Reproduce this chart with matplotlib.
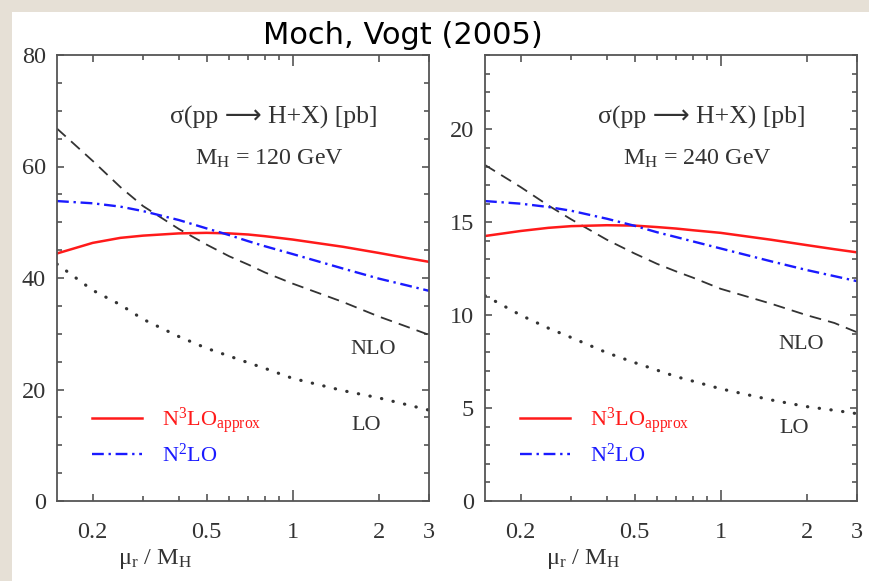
import matplotlib
matplotlib.use("Agg")
import matplotlib.pyplot as plt
from matplotlib.patches import Rectangle
from matplotlib.ticker import FixedLocator, NullFormatter, MultipleLocator

plt.rcParams['font.family'] = ['Liberation Serif', 'DejaVu Sans']
plt.rcParams['mathtext.fontset'] = 'custom'
plt.rcParams['mathtext.rm'] = 'Liberation Serif'
plt.rcParams['mathtext.it'] = 'Liberation Serif:italic'
plt.rcParams['mathtext.bf'] = 'Liberation Serif:bold'

# scale ratio mu_r / M_H
mu = [0.15, 0.2, 0.25, 0.3, 0.4, 0.5, 0.6, 0.7, 0.8, 1.0, 1.5, 2.0, 2.5, 3.0]

# M_H = 120 GeV
lo_120 = [42.5, 37.8, 35.2, 32.6, 29.5, 27.4, 26.0, 24.8, 23.8, 22.0, 19.8, 18.5, 17.3, 16.3]
nlo_120 = [66.8, 61.0, 56.3, 52.9, 48.8, 46.0, 43.9, 42.4, 41.0, 39.0, 35.7, 33.1, 31.3, 29.8]
n2lo_120 = [53.8, 53.4, 52.8, 52.0, 50.4, 48.9, 47.7, 46.6, 45.7, 44.3, 41.7, 39.9, 38.7, 37.7]
n3lo_120 = [44.4, 46.3, 47.2, 47.6, 48.0, 48.1, 48.0, 47.8, 47.5, 46.9, 45.6, 44.5, 43.6, 42.9]

# M_H = 240 GeV
lo_240 = [11.05, 10.0, 9.3, 8.8, 7.98, 7.45, 7.04, 6.69, 6.45, 6.04, 5.44, 5.08, 4.88, 4.70]
nlo_240 = [18.08, 16.89, 15.90, 15.16, 14.06, 13.32, 12.76, 12.35, 12.02, 11.42, 10.62, 10.0, 9.58, 9.08]
n2lo_240 = [16.14, 16.0, 15.82, 15.62, 15.19, 14.81, 14.46, 14.20, 13.97, 13.59, 12.90, 12.43, 12.10, 11.83]
n3lo_240 = [14.26, 14.53, 14.70, 14.79, 14.84, 14.82, 14.74, 14.66, 14.57, 14.43, 14.06, 13.77, 13.55, 13.38]

panels = [
    dict(lo=lo_120, nlo=nlo_120, n2lo=n2lo_120, n3lo=n3lo_120, ymax=80,
         major=20, minor=5, mass="120", left=57, nlo_y=0.340, lo_y=0.170),
    dict(lo=lo_240, nlo=nlo_240, n2lo=n2lo_240, n3lo=n3lo_240, ymax=24,
         major=5, minor=1, mass="240", left=485, nlo_y=0.352, lo_y=0.162),
]

W, H = 870, 581
fig = plt.figure(figsize=(W / 100, H / 100), dpi=100)
fig.patch.set_facecolor('#e6e0d6')
fig.add_artist(Rectangle((12 / W, 0), 1, 1 - 12 / H, transform=fig.transFigure,
                         facecolor='white', edgecolor='none', zorder=0))

ink = '#333333'
for p in panels:
    ax = fig.add_axes([p['left'] / W, 80 / H, 372 / W, 446 / H])
    ax.set_xscale('log')

    ax.plot(mu, p['lo'], color=ink, lw=2.3, dashes=(0.1, 3.6),
            dash_capstyle='round')
    ax.plot(mu, p['nlo'], color=ink, lw=1.3, dashes=(6.5, 4))
    ax.plot(mu, p['n3lo'], color='#ff1a1a', lw=1.8, label=r'N$^{3}$LO$_{\rm approx}$')
    ax.plot(mu, p['n2lo'], color='#1a1aff', lw=1.7, dashes=(5, 2, 1, 2),
            label=r'N$^{2}$LO')

    ax.set_xlim(0.15, 3)
    ax.set_ylim(0, p['ymax'])

    ax.xaxis.set_major_locator(FixedLocator([0.2, 0.5, 1, 2, 3]))
    ax.xaxis.set_minor_locator(FixedLocator([0.3, 0.4, 0.6, 0.7, 0.8, 0.9]))
    ax.set_xticklabels(['0.2', '0.5', '1', '2', '3'])
    ax.xaxis.set_minor_formatter(NullFormatter())
    ax.yaxis.set_major_locator(MultipleLocator(p['major']))
    ax.yaxis.set_minor_locator(MultipleLocator(p['minor']))

    ax.tick_params(which='both', direction='in', top=True, right=True,
                   color='#555555', width=1.2, labelsize=17.5, labelcolor=ink)
    ax.tick_params(which='major', length=5)
    ax.tick_params(which='minor', length=3.5)
    ax.tick_params(axis='x', which='major', pad=15)
    ax.tick_params(axis='y', which='major', pad=8)
    for t in ax.xaxis.get_major_ticks():
        if t.get_loc() == 1:
            t.tick1line.set_markersize(8)
            t.tick2line.set_markersize(8)

    for s in ax.spines.values():
        s.set_color('#555555')
        s.set_linewidth(1.3)

    ax.set_xlabel('μ$_{\\rm r}$ / M$_{\\rm H}$', fontsize=17.5, color=ink)
    ax.xaxis.set_label_coords(0.263, -0.104)

    ax.text(0.582, 0.861, 'σ(pp ⟶ H+X) [pb]', transform=ax.transAxes,
            ha='center', va='center', fontsize=18.5, color=ink)
    ax.text(0.570, 0.768, r'M$_{\rm H}$ = ' + p['mass'] + ' GeV', transform=ax.transAxes,
            ha='center', va='center', fontsize=17.3, color=ink)
    ax.text(0.850, p['nlo_y'], 'NLO', transform=ax.transAxes, ha='center',
            va='center', fontsize=16, color=ink)
    ax.text(0.830, p['lo_y'], 'LO', transform=ax.transAxes, ha='center',
            va='center', fontsize=16, color=ink)

    ax.legend(loc='center left', bbox_to_anchor=(0.095, 0.146), frameon=False,
              fontsize=16, handlelength=2.25, handletextpad=0.9,
              labelspacing=0.35, borderpad=0, borderaxespad=0,
              labelcolor='linecolor')

fig.text(403 / W, 1 - 35 / H, 'Moch, Vogt (2005)', ha='center', va='center',
         fontsize=22, color='black',
         family=['Liberation Sans Narrow', 'DejaVu Sans'])

fig.savefig('out.png', dpi=100, facecolor=fig.get_facecolor())
